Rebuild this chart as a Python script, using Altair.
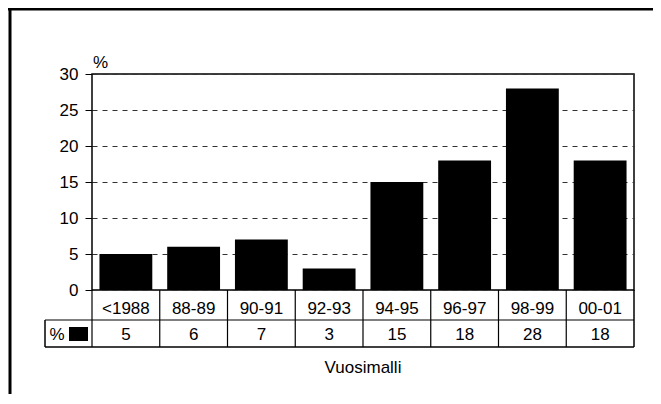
import altair as alt
import pandas as pd

categories = ["<1988", "88-89", "90-91", "92-93", "94-95", "96-97", "98-99", "00-01"]
values = [5, 6, 7, 3, 15, 18, 28, 18]
y_ticks = [0, 5, 10, 15, 20, 25, 30]
x_title = "Vuosimalli"
y_title = "%"
legend_label = "%"

FONT = "Liberation Sans"
FS = 17
W, H = 542, 216

df = pd.DataFrame({"cat": categories, "value": values})
one = alt.Data(values=[{}])

xs = alt.Scale(domain=categories, paddingInner=0, paddingOuter=0)
ys = alt.Scale(domain=[0, 30], nice=False)

bars = alt.Chart(df).mark_bar(color="black", width=alt.RelativeBandSize(0.78)).encode(
    x=alt.X("cat:N", scale=xs, sort=categories, axis=None),
    y=alt.Y("value:Q", scale=ys, axis=alt.Axis(
        values=y_ticks, grid=True, gridDash=[5, 5], gridColor="#333333", gridWidth=1,
        domain=False, tickColor="black", tickSize=7, tickWidth=1,
        labelFont=FONT, labelFontSize=FS, labelColor="black", labelPadding=7,
        title=y_title, titleAngle=0, titleFont=FONT, titleFontSize=FS,
        titleFontWeight="normal", titleColor="black", titleX=8, titleY=-7,
        titleAlign="center", titleBaseline="alphabetic")),
)

# table vertical lines at band edges
edges = alt.Chart(df).mark_rule(color="black", strokeWidth=1.2).encode(
    x=alt.X("cat:N", scale=xs, sort=categories, bandPosition=0, axis=None),
    y=alt.value(H), y2=alt.value(273),
)
right_edge = alt.Chart(one).mark_rule(color="black", strokeWidth=1.5).encode(
    x=alt.value(W), y=alt.value(H), y2=alt.value(273))
hline1 = alt.Chart(one).mark_rule(color="black", strokeWidth=1.2).encode(
    x=alt.value(-47), x2=alt.value(W), y=alt.value(246))
hline2 = alt.Chart(one).mark_rule(color="black", strokeWidth=1.5).encode(
    x=alt.value(-47), x2=alt.value(W), y=alt.value(273))
lvert = alt.Chart(one).mark_rule(color="black", strokeWidth=1.5).encode(
    x=alt.value(-47), y=alt.value(246), y2=alt.value(273))

cat_text = alt.Chart(df).mark_text(font=FONT, fontSize=FS, color="black", baseline="middle").encode(
    x=alt.X("cat:N", scale=xs, sort=categories, axis=None),
    y=alt.value(235), text="cat:N")
val_text = alt.Chart(df).mark_text(font=FONT, fontSize=FS, color="black", baseline="middle").encode(
    x=alt.X("cat:N", scale=xs, sort=categories, axis=None),
    y=alt.value(261), text="value:Q")

leg_text = alt.Chart(one).mark_text(font=FONT, fontSize=FS, color="black", baseline="middle",
                                    align="center").encode(
    x=alt.value(-35), y=alt.value(261), text=alt.value(legend_label))
leg_sq = alt.Chart(one).mark_rect(color="black").encode(
    x=alt.value(-23), x2=alt.value(-4), y=alt.value(253), y2=alt.value(267))

title_text = alt.Chart(one).mark_text(font=FONT, fontSize=FS, color="black", baseline="middle",
                                      align="center").encode(
    x=alt.value(W / 2), y=alt.value(294), text=alt.value(x_title))

# outer frame (top and left)
top_border = alt.Chart(one).mark_rule(color="black", strokeWidth=3).encode(
    x=alt.value(-84), x2=alt.value(561), y=alt.value(-65))
left_border = alt.Chart(one).mark_rule(color="black", strokeWidth=3).encode(
    x=alt.value(-82), y=alt.value(-65), y2=alt.value(320))

chart = alt.layer(
    bars, edges, right_edge, hline1, hline2, lvert, cat_text, val_text,
    leg_text, leg_sq, title_text, top_border, left_border,
).properties(
    width=W, height=H,
    autosize=alt.AutoSizeParams(type="none"),
    padding={"left": 84, "top": 66, "right": 19, "bottom": 104},
    background="white",
).configure_view(stroke="black", strokeWidth=1.5)

chart.save("out.html", embed_options={"renderer": "svg", "actions": False})
